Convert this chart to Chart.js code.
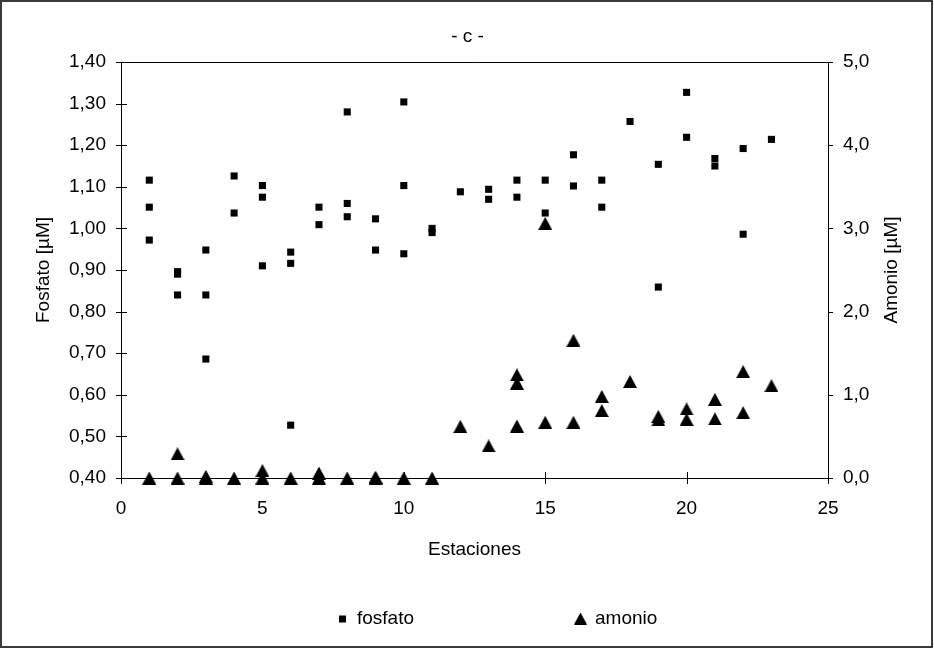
<!DOCTYPE html>
<html>
<head>
<meta charset="utf-8">
<script src="https://cdn.jsdelivr.net/npm/chart.js@4.4.1/dist/chart.umd.min.js"></script>
<style>
  html, body { margin: 0; padding: 0; background: #fff; }
  #wrap { width: 934px; height: 649px; position: relative; }
</style>
</head>
<body>
<div id="wrap"><canvas id="c" width="934" height="649"></canvas></div>
<script>
// ---- data ----
const fosfatoX = [1,1,1, 2,2,2, 3,3,3, 4,4, 5,5,5, 6,6,6, 7,7, 8,8,8, 9,9, 10,10,10, 11,11, 12, 13,13, 14,14, 15,15, 16,16, 17,17, 18, 19,19, 20,20, 21,21, 22,22, 23];
const fosfatoY = [1.116,1.051,0.972, 0.896,0.890,0.840, 0.948,0.840,0.686, 1.126,1.037, 1.103,1.075,0.910, 0.943,0.916,0.527, 1.051,1.009, 1.280,1.060,1.028, 1.023,0.948, 1.304,1.103,0.939, 1.000,0.990, 1.088, 1.094,1.070, 1.116,1.075, 1.116,1.037, 1.177,1.102, 1.116,1.051, 1.257, 1.154,0.859, 1.327,1.219, 1.168,1.150, 1.192,0.986, 1.214];
const amonioX = [1, 2,2, 3,3, 4, 5,5, 6, 7,7, 8, 9,9, 10, 11, 12, 13, 14,14,14, 15,15, 16,16, 17,17, 18, 19,19, 20,20, 21,21, 22,22, 23];
const amonioY = [0, 0.29,0, 0.02,0, 0, 0.09,0, 0, 0.06,0, 0, 0.01,0, 0, 0, 0.62, 0.385, 1.24,1.14,0.625, 3.06,0.67, 1.655,0.67, 0.98,0.81, 1.16, 0.74,0.70, 0.83,0.705, 0.945,0.71, 1.28,0.785, 1.11];
const xTicks = [0, 5, 10, 15, 20, 25];
const leftTicks = [0.4, 0.5, 0.6, 0.7, 0.8, 0.9, 1.0, 1.1, 1.2, 1.3, 1.4];
const rightTicks = [0, 1, 2, 3, 4, 5];
const seriesNames = ['fosfato', 'amonio'];
const titleText = '- c -';
const xTitle = 'Estaciones';
const yLeftTitle = 'Fosfato [µM]';
const yRightTitle = 'Amonio [µM]';

const FONT = '"Liberation Sans", Arial, sans-serif';
const FS = 19;

function makeTriangle(w, h) {
  const cv = document.createElement('canvas');
  cv.width = w; cv.height = h;
  const g = cv.getContext('2d');
  g.fillStyle = '#000';
  g.beginPath();
  g.moveTo(w / 2, 0);
  g.lineTo(w, h);
  g.lineTo(0, h);
  g.closePath();
  g.fill();
  return cv;
}
const triMarker = makeTriangle(14, 13);
const triLegend = makeTriangle(13, 12);

const toPts = (xs, ys) => xs.map((x, i) => ({ x: x, y: ys[i] }));

const decor = {
  id: 'decor',
  afterDraw(chart) {
    const ctx = chart.ctx;
    const a = chart.chartArea;
    const xs = chart.scales.x, yl = chart.scales.y, yr = chart.scales.y2;
    ctx.save();
    // outer border
    ctx.strokeStyle = '#3a3a3a';
    ctx.lineWidth = 2;
    ctx.strokeRect(1, 1, 931, 646);
    // top frame line
    ctx.strokeStyle = '#000';
    ctx.lineWidth = 1;
    ctx.beginPath();
    ctx.moveTo(a.left, Math.round(a.top) + 0.5);
    ctx.lineTo(a.right, Math.round(a.top) + 0.5);
    // left ticks (cross)
    leftTicks.forEach(v => {
      const y = Math.round(yl.getPixelForValue(v)) + 0.5;
      ctx.moveTo(a.left - 5, y); ctx.lineTo(a.left + 6, y);
    });
    // right ticks (outside)
    rightTicks.forEach(v => {
      const y = Math.round(yr.getPixelForValue(v)) + 0.5;
      ctx.moveTo(a.right, y); ctx.lineTo(a.right + 5, y);
    });
    // bottom ticks (cross)
    xTicks.forEach(v => {
      const x = Math.round(xs.getPixelForValue(v)) + 0.5;
      ctx.moveTo(x, a.bottom - 6); ctx.lineTo(x, a.bottom + 6);
    });
    ctx.stroke();

    // texts
    ctx.fillStyle = '#000';
    ctx.font = FS + 'px ' + FONT;
    ctx.textBaseline = 'middle';
    ctx.textAlign = 'center';
    ctx.fillText(titleText, 467.5, 37);
    ctx.fillText(xTitle, (a.left + a.right) / 2, 550);

    ctx.save();
    ctx.translate(44, (a.top + a.bottom) / 2);
    ctx.rotate(-Math.PI / 2);
    ctx.fillText(yLeftTitle, 0, 0);
    ctx.restore();

    ctx.save();
    ctx.translate(892, (a.top + a.bottom) / 2);
    ctx.rotate(-Math.PI / 2);
    ctx.fillText(yRightTitle, 0, 0);
    ctx.restore();

    // legend
    const ly = 619;
    ctx.fillRect(339, ly - 3.5, 7, 7);
    ctx.textAlign = 'left';
    ctx.fillText(seriesNames[0], 357, ly);
    ctx.drawImage(triLegend, 574, ly - 6.5);
    ctx.fillText(seriesNames[1], 595, ly);
    ctx.restore();
  }
};

new Chart(document.getElementById('c'), {
  type: 'scatter',
  data: {
    datasets: [
      {
        label: seriesNames[0],
        data: toPts(fosfatoX, fosfatoY),
        yAxisID: 'y',
        pointStyle: 'rect',
        pointRadius: 5,
        pointBorderWidth: 0,
        backgroundColor: '#000',
        borderColor: '#000',
        clip: false
      },
      {
        label: seriesNames[1],
        data: toPts(amonioX, amonioY),
        yAxisID: 'y2',
        pointStyle: triMarker,
        pointRadius: 7,
        backgroundColor: '#000',
        borderColor: '#000',
        clip: false
      }
    ]
  },
  options: {
    responsive: false,
    animation: false,
    devicePixelRatio: 1,
    layout: { padding: { top: 62, left: 0, right: 0, bottom: 0 } },
    plugins: {
      legend: { display: false },
      title: { display: false },
      tooltip: { enabled: false }
    },
    scales: {
      x: {
        type: 'linear',
        position: 'bottom',
        min: 0, max: 25,
        afterBuildTicks: s => { s.ticks = xTicks.map(v => ({ value: v })); },
        ticks: { font: { family: FONT, size: FS }, color: '#000', padding: 19, maxRotation: 0, autoSkip: false },
        grid: { display: false, drawTicks: false },
        border: { display: true, color: '#000', width: 1 },
        afterFit: s => { s.height = 171; }
      },
      y: {
        type: 'linear',
        position: 'left',
        min: 0.4, max: 1.4,
        afterBuildTicks: s => { s.ticks = leftTicks.map(v => ({ value: v })); },
        ticks: {
          font: { family: FONT, size: FS }, color: '#000', padding: 15, autoSkip: false,
          callback: v => v.toFixed(2).replace('.', ',')
        },
        grid: { display: false, drawTicks: false },
        border: { display: true, color: '#000', width: 1 },
        afterFit: s => { s.width = 121; }
      },
      y2: {
        type: 'linear',
        position: 'right',
        min: 0, max: 5,
        afterBuildTicks: s => { s.ticks = rightTicks.map(v => ({ value: v })); },
        ticks: {
          font: { family: FONT, size: FS }, color: '#000', padding: 15, autoSkip: false,
          callback: v => v.toFixed(1).replace('.', ',')
        },
        grid: { display: false, drawTicks: false },
        border: { display: true, color: '#000', width: 1 },
        afterFit: s => { s.width = 106; }
      }
    }
  },
  plugins: [decor]
});
</script>
</body>
</html>
